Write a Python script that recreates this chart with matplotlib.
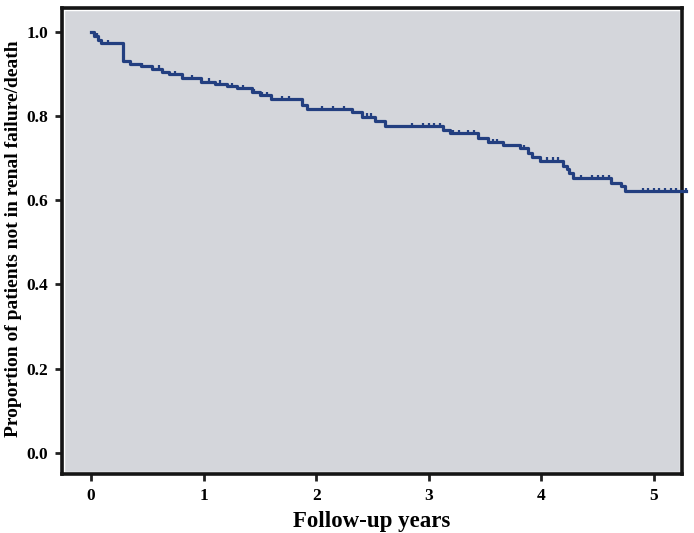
import numpy as np
import matplotlib.pyplot as plt
from matplotlib.patches import Rectangle

# Kaplan-Meier step curve: event times and survival after each step
event_t = [0.0, 0.03, 0.06, 0.09, 0.28, 0.35, 0.44, 0.54, 0.63, 0.69, 0.81, 0.98, 1.10,
           1.21, 1.30, 1.43, 1.50, 1.60, 1.87, 1.92, 2.32, 2.41, 2.52, 2.61, 3.13, 3.19,
           3.44, 3.53, 3.66, 3.81, 3.88, 3.92, 3.99, 4.19, 4.23, 4.25, 4.28, 4.62, 4.71,
           4.74]
surv = [1.0, 0.99, 0.981, 0.974, 0.931, 0.924, 0.919, 0.913, 0.905, 0.899, 0.891, 0.882,
        0.877, 0.872, 0.866, 0.857, 0.850, 0.840, 0.826, 0.816, 0.809, 0.799, 0.788, 0.777,
        0.766, 0.760, 0.748, 0.739, 0.732, 0.724, 0.712, 0.704, 0.694, 0.682, 0.675, 0.665,
        0.652, 0.641, 0.634, 0.621]
t_end = 5.29

# censored observations (small tick marks)
cens_t = [0.05, 0.15, 0.45, 0.6, 0.75, 0.9, 1.05, 1.15, 1.25, 1.35, 1.45, 1.52, 1.56, 1.7,
          1.76, 2.05, 2.15, 2.25, 2.45, 2.49, 2.85, 2.95, 3.0, 3.05, 3.1, 3.22, 3.27, 3.35,
          3.4, 3.57, 3.61, 3.85, 4.05, 4.1, 4.15, 4.35, 4.45, 4.5, 4.55, 4.6, 4.9, 4.95,
          5.0, 5.05, 5.1, 5.15, 5.2, 5.29]

navy = '#233f80'
bg = '#d4d6db'

plt.rcParams['font.family'] = 'Liberation Serif'
plt.rcParams['font.weight'] = 'bold'

fig = plt.figure(figsize=(6.94, 5.33), dpi=100)
ax = fig.add_axes([0.0893, 0.111, 0.8934, 0.874])
ax.set_facecolor(bg)

xs = list(event_t) + [t_end]
ys = list(surv) + [surv[-1]]
ax.step(xs, ys, where='post', color=navy, lw=2.3, clip_on=False, zorder=3)

idx = np.searchsorted(event_t, cens_t, side='right') - 1
cy = np.array(surv)[idx]
ax.plot(cens_t, cy + 0.003, ls='none', marker='|', ms=3.5, mew=1.6, color=navy,
        clip_on=False, zorder=4)

ax.set_xlim(-0.258, 5.25)
ax.set_ylim(-0.05, 1.057)
ax.set_xticks([0, 1, 2, 3, 4, 5])
ax.set_yticks([0.0, 0.2, 0.4, 0.6, 0.8, 1.0])
ax.set_yticklabels(['0.0', '0.2', '0.4', '0.6', '0.8', '1.0'])
ax.tick_params(direction='out', length=5, width=2, colors='#222222', labelsize=12.5, pad=5)
for lab in ax.get_xticklabels() + ax.get_yticklabels():
    lab.set_fontweight('bold')
    lab.set_color('black')

for s in ax.spines.values():
    s.set_linewidth(2.6)
    s.set_color('#151515')

# thin light inner border
ax.add_patch(Rectangle((0.004, 0.005), 0.992, 0.99, transform=ax.transAxes,
                       fill=False, edgecolor='white', lw=1.0, zorder=1))

ax.set_xlabel('Follow-up years', fontsize=16.5, fontweight='bold', labelpad=5)
ax.set_ylabel('Proportion of patients not in renal failure/death', fontsize=14,
              fontweight='bold', va='center')
ax.yaxis.set_label_coords(-0.078, 0.505)

fig.savefig('out.png', dpi=100)
